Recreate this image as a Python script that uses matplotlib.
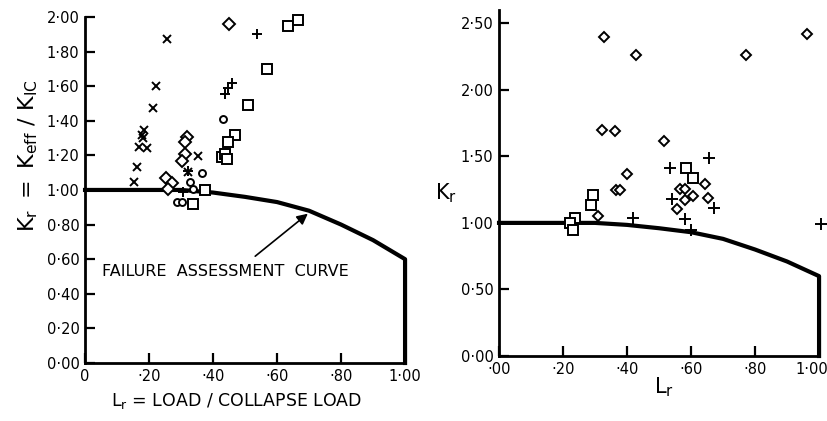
import matplotlib
matplotlib.use("Agg")
import matplotlib.pyplot as plt
import matplotlib.transforms as mtransforms

# failure assessment curve
curve_lr = [0.0, 0.30, 0.40, 0.50, 0.60, 0.70, 0.80, 0.90, 1.00, 1.00]
curve_kr = [1.0, 1.0, 0.985, 0.96, 0.93, 0.88, 0.80, 0.71, 0.60, 0.0]

# left panel points
l_cross_x = [0.257, 0.223, 0.211, 0.184, 0.179, 0.182, 0.170, 0.193, 0.163, 0.153, 0.354, 0.323]
l_cross_y = [1.873, 1.60, 1.472, 1.347, 1.318, 1.30, 1.25, 1.24, 1.131, 1.048, 1.198, 1.106]
l_plus_x = [0.536, 0.458, 0.448, 0.438, 0.323, 0.305]
l_plus_y = [1.90, 1.62, 1.588, 1.553, 1.11, 0.99]
l_diam_x = [0.45, 0.318, 0.313, 0.3125, 0.302, 0.253, 0.271, 0.26]
l_diam_y = [1.96, 1.305, 1.28, 1.21, 1.17, 1.068, 1.04, 1.003]
l_sq_x = [0.635, 0.667, 0.568, 0.51, 0.469, 0.446, 0.427, 0.437, 0.443, 0.375, 0.338]
l_sq_y = [1.95, 1.98, 1.70, 1.49, 1.32, 1.28, 1.19, 1.21, 1.18, 1.0, 0.92]
l_circ_x = [0.432, 0.367, 0.328, 0.336, 0.286, 0.302]
l_circ_y = [1.41, 1.10, 1.048, 1.003, 0.929, 0.929]

# right panel points
r_diam_x = [0.328, 0.428, 0.771, 0.961, 0.321, 0.3625, 0.516, 0.399, 0.366, 0.378, 0.310,
            0.566, 0.581, 0.607, 0.581, 0.555, 0.644, 0.652]
r_diam_y = [2.395, 2.265, 2.265, 2.42, 1.70, 1.69, 1.615, 1.37, 1.248, 1.25, 1.054,
            1.257, 1.255, 1.20, 1.17, 1.108, 1.29, 1.186]
r_sq_x = [0.584, 0.605, 0.295, 0.287, 0.2375, 0.222, 0.232]
r_sq_y = [1.41, 1.336, 1.206, 1.137, 1.04, 1.0, 0.945]
r_plus_x = [0.657, 0.534, 0.54, 0.673, 0.42, 0.581, 0.60, 1.005]
r_plus_y = [1.49, 1.41, 1.176, 1.11, 1.04, 1.03, 0.95, 0.99]

left_xticks = [0, 0.2, 0.4, 0.6, 0.8, 1.0]
left_xlabels = ["0", "·20", "·40", "·60", "·80", "1·00"]
left_yticks = [0, 0.2, 0.4, 0.6, 0.8, 1.0, 1.2, 1.4, 1.6, 1.8, 2.0]
left_ylabels = ["0·00", "0·20", "0·40", "0·60", "0·80", "1·00", "1·20", "1·40", "1·60", "1·80", "2·00"]
right_xticks = [0, 0.2, 0.4, 0.6, 0.8, 1.0]
right_xlabels = ["·00", "·20", "·40", "·60", "·80", "1·00"]
right_yticks = [0, 0.5, 1.0, 1.5, 2.0, 2.5]
right_ylabels = ["0·00", "0·50", "1·00", "1·50", "2·00", "2·50"]

fig = plt.figure(figsize=(8.28, 4.21), dpi=100)
ax1 = fig.add_axes([0.1027, 0.1378, 0.3865, 0.822])
ax2 = fig.add_axes([0.6027, 0.1544, 0.3865, 0.822])

def style_axes(ax):
    for s in ["top", "right"]:
        ax.spines[s].set_visible(False)
    for s in ["left", "bottom"]:
        ax.spines[s].set_linewidth(2.0)
    ax.tick_params(direction="in", length=7, width=1.6, labelsize=10.5, pad=4)

def draw_curve(ax):
    ax.plot(curve_lr, curve_kr, color="black", lw=3.0, solid_joinstyle="round", zorder=2, clip_on=False)

hollow = dict(linestyle="none", mfc="white", mec="black", mew=1.4, zorder=3, clip_on=False)
lines = dict(linestyle="none", color="black", mew=1.4, zorder=4, clip_on=False)

# left panel
style_axes(ax1)
draw_curve(ax1)
ax1.plot(l_sq_x, l_sq_y, marker="s", ms=7, **hollow)
ax1.plot(l_diam_x, l_diam_y, marker="D", ms=6, **hollow)
ax1.plot(l_circ_x, l_circ_y, marker="o", ms=5, **hollow)
ax1.plot(l_cross_x, l_cross_y, marker="x", ms=5.5, **lines)
ax1.plot(l_plus_x, l_plus_y, marker="+", ms=7, **lines)
ax1.set_xlim(0, 1.0)
ax1.set_ylim(0, 2.0)
ax1.set_xticks(left_xticks)
ax1.set_xticklabels(left_xlabels)
ax1.set_yticks(left_yticks)
ax1.set_yticklabels(left_ylabels)
ax1.set_ylabel(r"$\mathregular{K_r\ =\ K_{eff}\ /\ K_{IC}}$", fontsize=16, va="center")
ax1.yaxis.set_label_coords(-0.178, 0.6)
ax1.set_xlabel(r"$\mathregular{L_r}$ = LOAD / COLLAPSE LOAD", fontsize=12.5, va="center")
ax1.xaxis.set_label_coords(0.475, -0.11)
ax1.text(0.053, 0.53, "FAILURE  ASSESSMENT  CURVE", fontsize=11.5, va="center", ha="left")
ax1.annotate("", xy=(0.703, 0.873), xytext=(0.525, 0.607),
             arrowprops=dict(arrowstyle="-|>", color="black", lw=1.2, mutation_scale=16))

# right panel
style_axes(ax2)
draw_curve(ax2)
ax2.plot(r_sq_x, r_sq_y, marker="s", ms=7, **hollow)
ax2.plot(r_diam_x, r_diam_y, marker="D", ms=5.5, **hollow)
ax2.plot(r_plus_x, r_plus_y, marker="+", ms=8, **lines)
ax2.set_xlim(0, 1.0)
ax2.set_ylim(0, 2.6)
ax2.set_xticks(right_xticks)
ax2.set_xticklabels(right_xlabels)
ax2.set_yticks(right_yticks)
ax2.set_yticklabels(right_ylabels)
ax2.set_ylabel(r"$\mathregular{K_r}$", fontsize=15, rotation=0, va="center")
ax2.yaxis.set_label_coords(-0.165, 0.47)
ax2.set_xlabel(r"$\mathregular{L_r}$", fontsize=15, va="center")
ax2.xaxis.set_label_coords(0.515, -0.09)

# last x tick label sits a little left of its tick, as in the reference
last = ax2.get_xticklabels()[-1]
last.set_transform(last.get_transform() + mtransforms.ScaledTranslation(-7 / 100, 0, fig.dpi_scale_trans))

fig.savefig("out.png", dpi=100)
